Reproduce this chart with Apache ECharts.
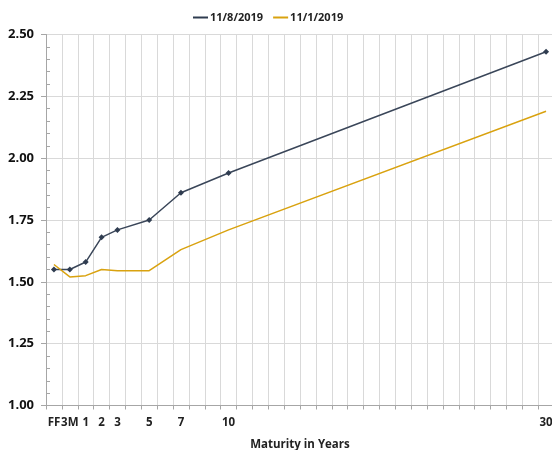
<!DOCTYPE html>
<html>
	<head>
		<meta charset="UTF-8">
		<title>Yield Curve</title>
		<script src="https://cdn.jsdelivr.net/npm/echarts@6/dist/echarts.min.js"></script>
		<style type="text/css">
			body {
				margin: 0;
				background: #fff;
			}
			#chart {
				width: 552px;
				height: 450px;
			}
		</style>
	</head>
	<body>
		<div id="chart"></div>
		<script type="text/javascript">
			// axis slots: one per year, FF and 3M in front
			var axisCategories = ['FF', '3M', '1', '2', '3', '4', '5', '6', '7', '8', '9', '10',
				'11', '12', '13', '14', '15', '16', '17', '18', '19', '20', '21', '22', '23', '24',
				'25', '26', '27', '28', '29', '30'];
			var shownLabels = ['FF', '3M', '1', '2', '3', '5', '7', '10', '30'];
			var maturities = ['FF', '3M', '1', '2', '3', '5', '7', '10', '30'];
			var nov8 = [1.55, 1.55, 1.58, 1.68, 1.71, 1.75, 1.86, 1.94, 2.43];
			var nov1 = [1.57, 1.52, 1.525, 1.55, 1.545, 1.545, 1.63, 1.71, 2.19];
			var yTicks = [1.00, 1.25, 1.50, 1.75, 2.00, 2.25, 2.50];

			function toSlots(values) {
				var out = axisCategories.map(function() { return null; });
				maturities.forEach(function(m, i) {
					out[axisCategories.indexOf(m)] = values[i];
				});
				return out;
			}

			var chart = echarts.init(document.getElementById('chart'));
			var labelFont = '"Open Sans", "Noto Sans", sans-serif';
			chart.setOption({
				animation: false,
				legend: {
					top: 7,
					left: 188,
					itemWidth: 15,
					itemHeight: 2,
					itemGap: 10,
					icon: 'rect',
					textStyle: { fontFamily: labelFont, fontWeight: 'bold', fontSize: 11, color: '#222', padding: [0, 0, 0, -3] },
					data: ['11/8/2019', '11/1/2019']
				},
				grid: { left: 46, right: -2, top: 34.5, bottom: 44.5, outerBoundsMode: 'none', containLabel: false },
				xAxis: {
					type: 'category',
					data: axisCategories,
					boundaryGap: true,
					name: 'Maturity in Years',
					nameLocation: 'middle',
					nameGap: 33,
					nameTextStyle: { fontFamily: labelFont, fontWeight: 'bold', fontSize: 11.5, color: '#222' },
					axisLine: { lineStyle: { color: '#a6a6a6', width: 1 } },
					axisTick: { show: true, length: 4, interval: 0, lineStyle: { color: '#a6a6a6' } },
					axisLabel: {
						interval: 0,
						margin: 11,
						fontFamily: labelFont,
						fontWeight: 'bold',
						fontSize: 11.5,
						color: '#222',
						formatter: function(v) { return shownLabels.indexOf(v) >= 0 ? v : ''; }
					},
					splitLine: { show: true, interval: 0, lineStyle: { color: '#d9d9d9', width: 1 } }
				},
				yAxis: {
					type: 'value',
					min: yTicks[0],
					max: yTicks[yTicks.length - 1],
					interval: 0.25,
					axisLine: { show: true, lineStyle: { color: '#a6a6a6', width: 1 } },
					axisTick: { show: true, length: 5, lineStyle: { color: '#a6a6a6' } },
					minorTick: { show: true, splitNumber: 5, length: -4, lineStyle: { color: '#a6a6a6' } },
					axisLabel: {
						margin: 12,
						fontFamily: labelFont,
						fontWeight: 'bold',
						fontSize: 13,
						color: '#111',
						formatter: function(v) { return v.toFixed(2); }
					},
					splitLine: { show: true, lineStyle: { color: '#d9d9d9', width: 1 } }
				},
				series: [
					{
						name: '11/8/2019',
						type: 'line',
						data: toSlots(nov8),
						connectNulls: true,
						symbol: 'diamond',
						symbolSize: 6,
						showAllSymbol: true,
						itemStyle: { color: '#2f3c50' },
						lineStyle: { color: '#3a4659', width: 1.5 }
					},
					{
						name: '11/1/2019',
						type: 'line',
						data: toSlots(nov1),
						connectNulls: true,
						showSymbol: false,
						symbol: 'none',
						itemStyle: { color: '#d9a20f' },
						lineStyle: { color: '#d9a20f', width: 1.5 }
					}
				]
			});
		</script>
	</body>
</html>
